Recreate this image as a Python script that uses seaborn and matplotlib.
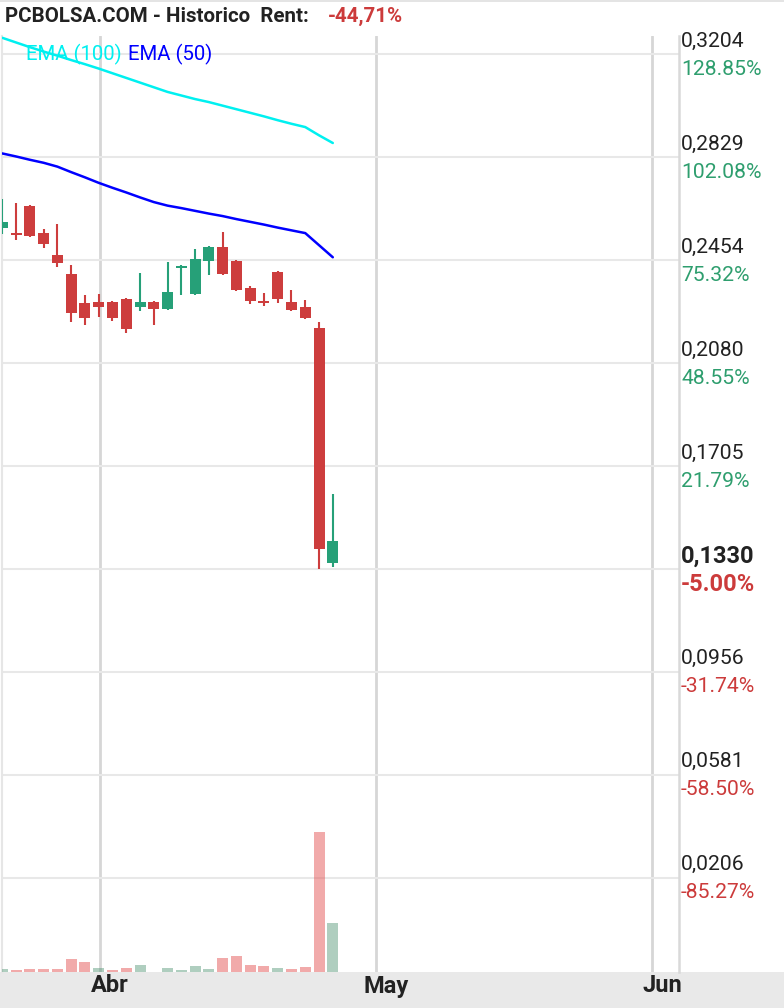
import numpy as np
import pandas as pd
import matplotlib
matplotlib.use("Agg")
import matplotlib.pyplot as plt
import matplotlib.transforms as mtrans
from matplotlib.patches import Rectangle
import seaborn as sns

# ---------------- data ----------------
opens  = [0.2573, 0.2553, 0.2652, 0.2553, 0.2473, 0.2404, 0.2299, 0.2302, 0.2302, 0.2313,
          0.2285, 0.2302, 0.2278, 0.2426, 0.2331, 0.2453, 0.2502, 0.2451, 0.2353, 0.2302,
          0.2411, 0.2302, 0.2284, 0.2208, 0.1353]
highs  = [0.2677, 0.2663, 0.2655, 0.2568, 0.2586, 0.2437, 0.2328, 0.2331, 0.2306, 0.2318,
          0.2408, 0.2306, 0.2448, 0.2437, 0.2495, 0.2506, 0.2558, 0.2455, 0.2360, 0.2335,
          0.2415, 0.2346, 0.2310, 0.2229, 0.1603]
lows   = [0.2551, 0.2529, 0.2540, 0.2500, 0.2431, 0.2230, 0.2220, 0.2249, 0.2234, 0.2190,
          0.2271, 0.2220, 0.2274, 0.2329, 0.2328, 0.2402, 0.2402, 0.2343, 0.2296, 0.2289,
          0.2300, 0.2271, 0.2241, 0.1330, 0.1339]
closes = [0.2593, 0.2547, 0.2544, 0.2514, 0.2445, 0.2263, 0.2245, 0.2285, 0.2245, 0.2205,
          0.2302, 0.2278, 0.2339, 0.2433, 0.2459, 0.2502, 0.2405, 0.2347, 0.2307, 0.2298,
          0.2314, 0.2274, 0.2245, 0.1404, 0.1432]
volumes = [7500, 5000, 7500, 7500, 7500, 32500, 25000, 10000, 5000, 10000,
           17500, 800, 10000, 5000, 15000, 7500, 35000, 40000, 17500, 15000,
           10000, 7500, 12500, 350000, 122500]
ema100 = [0.3264, 0.3247, 0.3230, 0.3214, 0.3199, 0.3183, 0.3168, 0.3152, 0.3135, 0.3118,
          0.3101, 0.3084, 0.3067, 0.3054, 0.3041, 0.3030, 0.3017, 0.3004, 0.2991, 0.2978,
          0.2964, 0.2951, 0.2939, 0.2909, 0.2881]
ema50  = [0.2843, 0.2832, 0.2820, 0.2809, 0.2795, 0.2775, 0.2756, 0.2736, 0.2718, 0.2701,
          0.2683, 0.2666, 0.2653, 0.2644, 0.2634, 0.2624, 0.2615, 0.2604, 0.2594, 0.2584,
          0.2573, 0.2563, 0.2553, 0.2509, 0.2465]

month_labels = ["Abr", "May", "Jun"]
month_pos = [7.1, 27.14, 47.18]          # trading-day index of month starts

price_ticks  = [0.3204, 0.2829, 0.2454, 0.2080, 0.1705, 0.1330, 0.0956, 0.0581, 0.0206]
price_labels = ["0,3204", "0,2829", "0,2454", "0,2080", "0,1705", "0,1330", "0,0956", "0,0581", "0,0206"]
pct_labels   = ["128.85%", "102.08%", "75.32%", "48.55%", "21.79%", "-5.00%", "-31.74%", "-58.50%", "-85.27%"]
last_label_index = 5

title_text = "PCBOLSA.COM - Historico  Rent:"
rent_text = "-44,71%"
legend_labels = ["EMA (100)", "EMA (50)"]

# ---------------- styling ----------------
sns.set_theme(style="white")
plt.rcParams['font.family'] = ['Roboto', 'DejaVu Sans']

W, H = 784, 1008
DPI = 100
RED = '#cd3d3d'
GREEN = '#26a078'
VOL_RED = (226/255, 68/255, 68/255, 0.45)
VOL_GREEN = (79/255, 148/255, 115/255, 0.45)
PCT_GREEN = '#2e9e6e'
PCT_RED = '#cc3b3b'
TXT = '#222222'

df = pd.DataFrame({
    "idx": np.arange(len(opens)),
    "open": opens, "high": highs, "low": lows, "close": closes,
    "volume": volumes, "ema100": ema100, "ema50": ema50,
})
df["up"] = df["close"] >= df["open"]
df["vol_up"] = df["close"] >= df["close"].shift(1).fillna(df["open"])

fig = plt.figure(figsize=(W / DPI, H / DPI), dpi=DPI)
fig.patch.set_facecolor('white')

# pixel-based layout
left_px, right_px, top_px, bottom_px = 2, 679, 36, 972
ax = fig.add_axes([left_px / W, (H - bottom_px) / H, (right_px - left_px) / W, (bottom_px - top_px) / H])
ax.set_facecolor('white')
ax.set_xlim(-0.022, 49.14)
ax.set_ylim(-0.01372, 0.32706)

# grids
ax.set_yticks(price_ticks)
ax.set_xticks(month_pos)
ax.yaxis.grid(True, color='#e8e8e8', lw=1.5, zorder=0)
ax.xaxis.grid(True, color='#d6d6d6', lw=2.0, zorder=0)
ax.set_axisbelow(True)
ax.set_xticklabels([])
ax.set_yticklabels([])
ax.tick_params(length=0)
for s in ['top', 'bottom']:
    ax.spines[s].set_visible(False)
ax.spines['left'].set_color('#e6e6e6')
ax.spines['left'].set_linewidth(1.5)
ax.spines['right'].set_color('#d9d9d9')
ax.spines['right'].set_linewidth(1.8)

# candles
body_w = 0.8
min_h = 0.0006
colors = [GREEN if u else RED for u in df["up"]]
ax.vlines(df["idx"], df["low"], df["high"], colors=colors, lw=1.5, zorder=3)
bottoms = np.minimum(df["open"], df["close"])
heights = np.maximum(np.abs(df["close"] - df["open"]), min_h)
ax.bar(df["idx"], heights, bottom=bottoms, width=body_w, color=colors, edgecolor='none', zorder=4)

# EMAs
sns.lineplot(data=df, x="idx", y="ema100", ax=ax, color='#00f0f0', lw=1.8, zorder=5)
sns.lineplot(data=df, x="idx", y="ema50", ax=ax, color='#0000ff', lw=1.8, zorder=5)
ax.set_xlabel("")
ax.set_ylabel("")

# volume
vax = ax.twinx()
vcolors = [VOL_GREEN if u else VOL_RED for u in df["vol_up"]]
vax.bar(df["idx"], df["volume"], width=body_w, color=vcolors, edgecolor='none', zorder=2)
vax.set_ylim(0, max(volumes) / (140 / 936))
vax.set_xlim(ax.get_xlim())
vax.set_yticks([])
for s in vax.spines.values():
    s.set_visible(False)
vax.grid(False)

# right axis labels
trans_y = mtrans.blended_transform_factory(ax.transAxes, ax.transData)
for i, (v, pl, pc) in enumerate(zip(price_ticks, price_labels, pct_labels)):
    bold = (i == last_label_index)
    fs = 17 if bold else 15.2
    up_off = mtrans.ScaledTranslation(0, 13 / DPI, fig.dpi_scale_trans)
    dn_off = mtrans.ScaledTranslation(0, -15 / DPI, fig.dpi_scale_trans)
    ax.text(1.003, v, pl, transform=trans_y + up_off, ha='left', va='center',
            fontsize=fs, color=TXT, fontweight='bold' if bold else 'normal', clip_on=False)
    ax.text(1.003, v, pc, transform=trans_y + dn_off, ha='left', va='center',
            fontsize=fs, color=(PCT_RED if pc.startswith('-') else PCT_GREEN),
            fontweight='bold' if bold else 'normal', clip_on=False)

# month labels
trans_x = mtrans.blended_transform_factory(ax.transData, ax.transAxes)
moff = mtrans.ScaledTranslation(10 / DPI, -14 / DPI, fig.dpi_scale_trans)
for p, lab in zip(month_pos, month_labels):
    ax.text(p, 0, lab, transform=trans_x + moff, ha='center', va='center',
            fontsize=17, color=TXT, fontweight='bold', clip_on=False)

# bottom band & top line
fig.add_artist(Rectangle((0, 0), 1, (H - bottom_px) / H, transform=fig.transFigure,
                         facecolor='#e9e9e9', edgecolor='none', zorder=-1))
fig.add_artist(Rectangle((0, 1 - 2 / H), 1, 2 / H, transform=fig.transFigure,
                         facecolor='#e4e4e4', edgecolor='none', zorder=-1))

# title
fig.text(5 / W, 1 - 16 / H, title_text, ha='left', va='center', fontsize=14.8,
         fontweight='bold', color=TXT)
fig.text(328 / W, 1 - 16 / H, rent_text, ha='left', va='center', fontsize=14.8,
         fontweight='bold', color=PCT_RED)

# legend text
fig.text(26 / W, 1 - 54 / H, legend_labels[0], ha='left', va='center', fontsize=14.7, color='#00f0f0')
fig.text(128 / W, 1 - 54 / H, legend_labels[1], ha='left', va='center', fontsize=14.7, color='#0000ff')

fig.savefig("out.png", dpi=DPI)
